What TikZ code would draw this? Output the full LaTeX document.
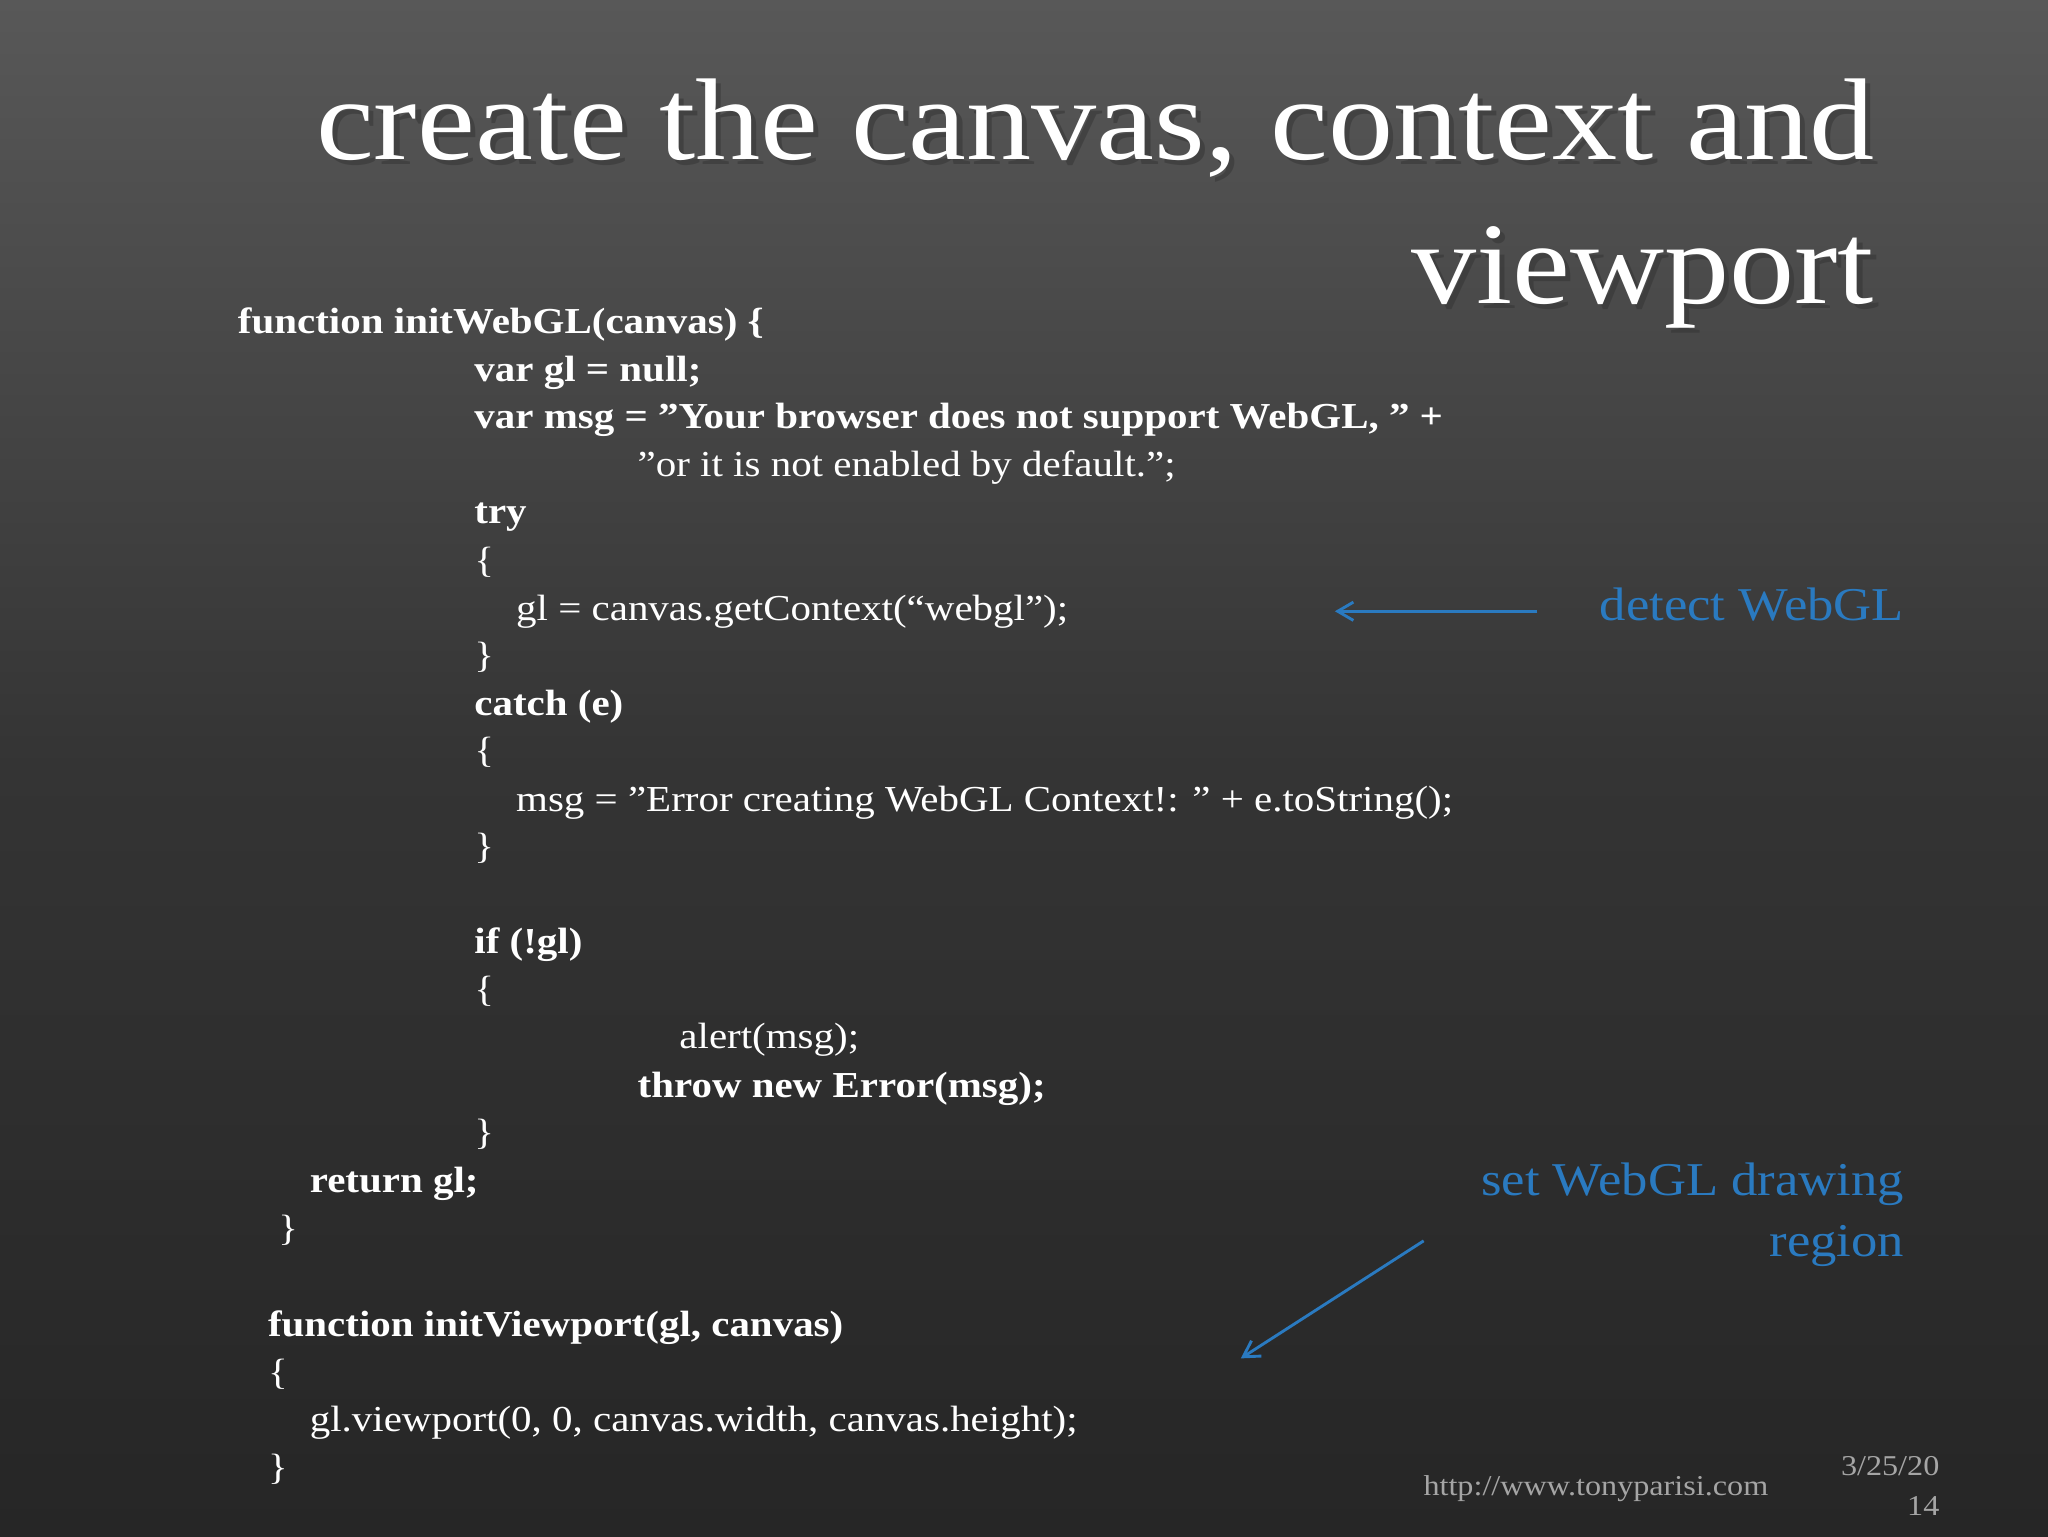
\documentclass[tikz,border=0pt]{standalone}
\usepackage{fontspec}
\setmainfont{Liberation Serif}[FakeStretch=1.12,Ligatures=ResetAll]
\newcommand{\dq}{"}
\definecolor{bluet}{RGB}{42,122,192}
\definecolor{foot}{RGB}{165,165,165}
\begin{document}
\begin{tikzpicture}[x=1pt,y=-1pt,
  code/.style={anchor=base west,text=white,inner sep=0pt,font=\fontsize{28}{30}\selectfont},
  bcode/.style={code,font=\fontsize{28}{30}\selectfont\bfseries},
  ttl/.style={anchor=base east,inner sep=0pt,text=white,font=\fontsize{89}{90}\selectfont},
  ann/.style={anchor=base east,inner sep=0pt,text=bluet,font=\fontsize{36}{38}\selectfont},
  arr/.style={draw=bluet,line width=2.2pt,-{Straight Barb[length=12pt,width=14pt]}},
  ft/.style={anchor=base east,inner sep=0pt,text=foot,font=\fontsize{22}{24}\selectfont}]
\usetikzlibrary{arrows.meta}
\shade[top color={rgb,255:red,88;green,88;blue,88},bottom color={rgb,255:red,38;green,38;blue,38},middle color={rgb,255:red,52;green,52;blue,52}] (0,0) rectangle (1568,1176);
\useasboundingbox (0,0) rectangle (1568,1176);
\node[ttl,text=black!80,opacity=0.5] at (1439,126) {create the canvas, context and};
\node[ttl,text=black!80,opacity=0.5] at (1439,236) {viewport};
\node[ttl] (t1) at (1435,122) {create the canvas, context and};
\node[ttl] (t2) at (1435,232) {viewport};
\node[bcode] (c1) at (182,255) {function initWebGL(canvas) \{};
\node[bcode] (c2) at (363,292) {var gl = null;};
\node[bcode] (c3) at (363,328) {var msg = \dq Your browser does not support WebGL, \dq\ +};
\node[code] (c4) at (488,365) {\dq or it is not enabled by default.\dq;};
\node[bcode] (c5) at (363,401) {try};
\node[code] (c6) at (363,438) {\{};
\node[code] (c7) at (395,475) {gl = canvas.getContext(“webgl\dq);};
\node[code] (c8) at (363,511) {\}};
\node[bcode] (c9) at (363,548) {catch (e)};
\node[code] (c10) at (363,584) {\{};
\node[code] (c11) at (395,621) {msg = \dq Error creating WebGL Context!: \dq\ + e.toString();};
\node[code] (c12) at (363,657) {\}};
\node[bcode] (c13) at (363,730) {if (!gl)};
\node[code] (c14) at (363,767) {\{};
\node[code] (c15) at (520,803) {alert(msg);};
\node[bcode] (c16) at (488,840) {throw new Error(msg);};
\node[code] (c17) at (363,876) {\}};
\node[bcode] (c18) at (237,913) {return gl;};
\node[code] (c19) at (213,950) {\}};
\node[bcode] (c20) at (205,1023) {function initViewport(gl, canvas)};
\node[code] (c21) at (205,1060) {\{};
\node[code] (c22) at (237,1096) {gl.viewport(0, 0, canvas.width, canvas.height);};
\node[code] (c23) at (205,1133) {\}};
\node[ann] (a1) at (1458,475) {detect WebGL};
\coordinate (a1s) at (1177,468);
\coordinate (a1e) at (1022,468);
\draw[arr] (a1s) -- (a1e);
\node[ann] (a2) at (1458,915) {set WebGL drawing};
\node[ann] (a3) at (1458,962) {region};
\coordinate (a2s) at (1090,950);
\coordinate (a2e) at (950,1040);
\draw[arr] (a2s) -- (a2e);
\node[ft] (f1) at (1354,1145) {http://www.tonyparisi.com};
\node[ft] (f2) at (1485,1130) {3/25/20};
\node[ft] (f3) at (1485,1160) {14};
\end{tikzpicture}
\end{document}
